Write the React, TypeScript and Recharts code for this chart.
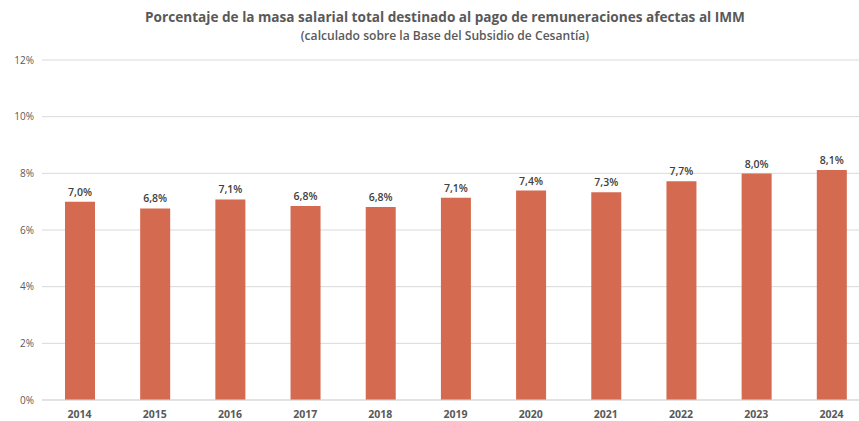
import React from "react";
import { BarChart, Bar, XAxis, YAxis, CartesianGrid, LabelList } from "recharts";

const years = ["2014", "2015", "2016", "2017", "2018", "2019", "2020", "2021", "2022", "2023", "2024"];
const shares = [7.0, 6.76, 7.08, 6.85, 6.81, 7.14, 7.39, 7.33, 7.72, 7.99, 8.12];
const yTicks = [0, 2, 4, 6, 8, 10, 12];
const title = "Porcentaje de la masa salarial total destinado al pago de remuneraciones afectas al IMM";
const subtitle = "(calculado sobre la Base del Subsidio de Cesantía)";

const data = years.map((y, i) => ({ year: y, value: shares[i] }));

const FONT = "'Open Sans', sans-serif";

export default function App() {
  return (
    <div style={{ position: "absolute", left: 0, top: 0, width: 859, height: 421, overflow: "hidden", background: "#fff", fontFamily: FONT }}>
      <div style={{ position: "absolute", left: 0, top: 7, width: 890, textAlign: "center", fontSize: 13.6, fontWeight: 700, color: "#595959", whiteSpace: "nowrap", lineHeight: "20px" }}>
        {title}
      </div>
      <div style={{ position: "absolute", left: 0, top: 28, width: 890, textAlign: "center", fontSize: 12.1, fontWeight: 600, color: "#595959", whiteSpace: "nowrap", lineHeight: "16px" }}>
        {subtitle}
      </div>
      <div style={{ position: "absolute", left: 0, top: 0 }}>
        <BarChart width={869} height={421} data={data} margin={{ top: 60, right: 0, bottom: 0, left: 0 }} barCategoryGap={0}>
          <CartesianGrid vertical={false} stroke="#D9D9D9" strokeWidth={1} />
          <XAxis
            dataKey="year"
            height={21}
            tickLine={false}
            axisLine={{ stroke: "#D9D9D9" }}
            tickMargin={5}
            tick={{ fontSize: 10.5, fontWeight: 700, fill: "#595959", fontFamily: FONT }}
            interval={0}
          />
          <YAxis
            width={42}
            domain={[0, 12]}
            ticks={yTicks}
            tickLine={false}
            axisLine={false}
            tickFormatter={(v: number) => `${v}%`}
            tick={{ fontSize: 10, fill: "#595959", fontFamily: FONT }}
          />
          <Bar dataKey="value" fill="#D46A4F" barSize={30} isAnimationActive={false}>
            <LabelList
              dataKey="value"
              position="top"
              offset={6}
              formatter={(v: number) => `${v.toFixed(1).replace(".", ",")}%`}
              style={{ fontSize: 10.5, fontWeight: 600, fill: "#404040", fontFamily: FONT }}
            />
          </Bar>
        </BarChart>
      </div>
    </div>
  );
}
